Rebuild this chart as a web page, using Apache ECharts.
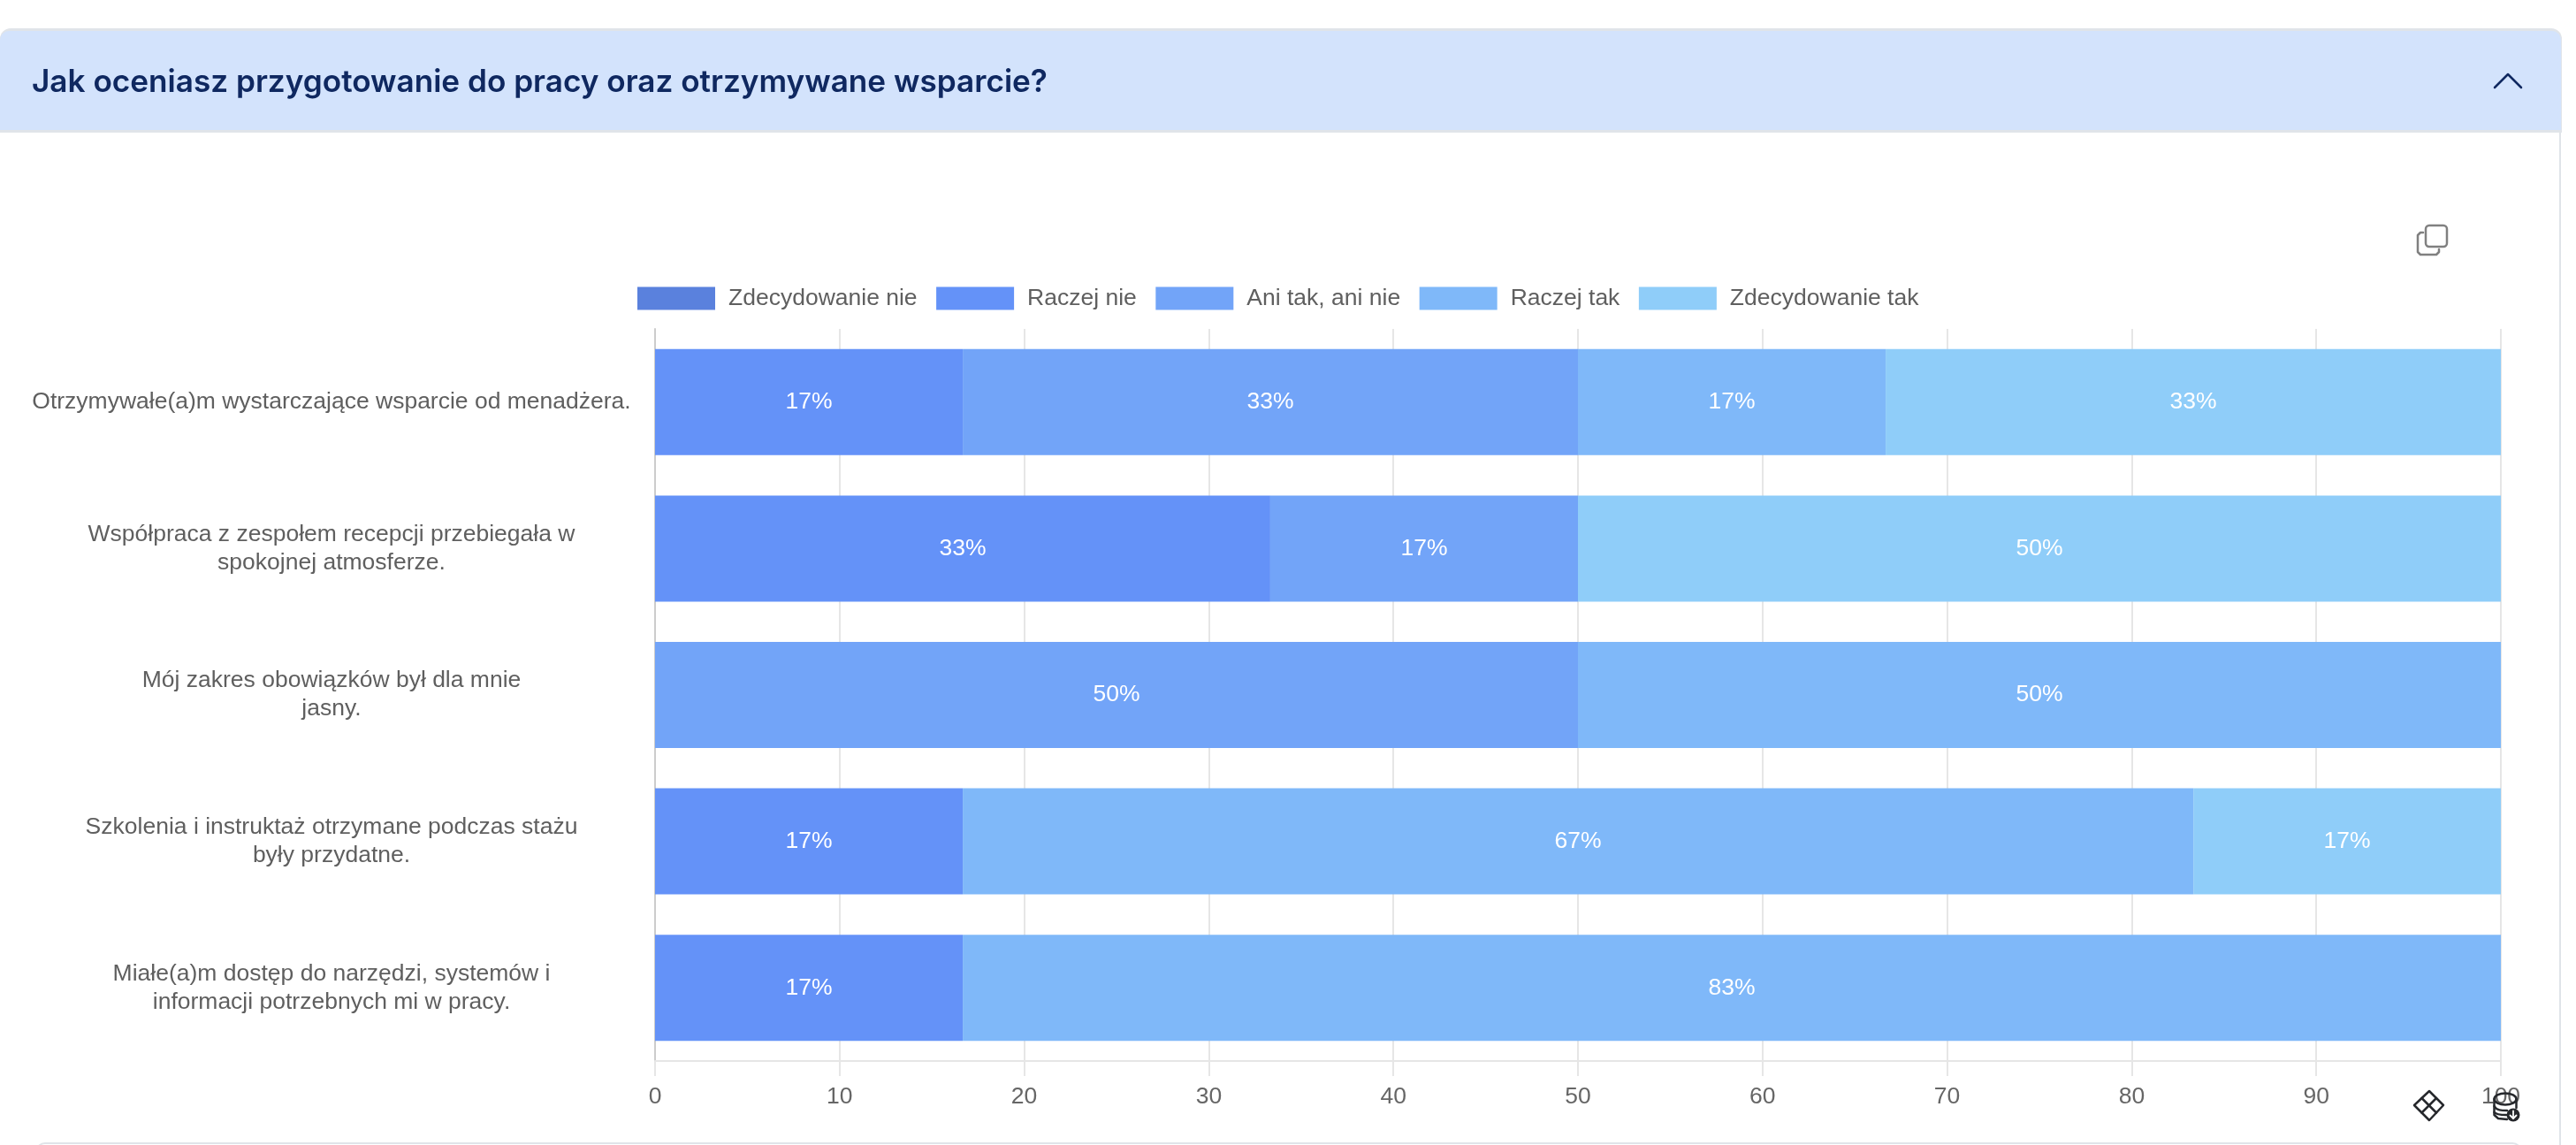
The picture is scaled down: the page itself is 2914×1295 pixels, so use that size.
<!DOCTYPE html>
<html lang="pl">
<head>
<meta charset="utf-8">
<title>Jak oceniasz przygotowanie do pracy oraz otrzymywane wsparcie?</title>
<style>
html,body{margin:0;padding:0;background:#fff;}
#chart{width:2914px;height:1295px;}
</style>
<script src="https://cdn.jsdelivr.net/npm/echarts@6/dist/echarts.min.js"></script>
</head>
<body>
<div id="chart"></div>
<script>
// Survey questions, top to bottom
const questions = [
  'Otrzymywałe(a)m wystarczające wsparcie od menadżera.',
  'Współpraca z zespołem recepcji przebiegała w\nspokojnej atmosferze.',
  'Mój zakres obowiązków był dla mnie\njasny.',
  'Szkolenia i instruktaż otrzymane podczas stażu\nbyły przydatne.',
  'Miałe(a)m dostęp do narzędzi, systemów i\ninformacji potrzebnych mi w pracy.'
];

// Share of answers per question, in percent
const zdecydowanieNie = [null, null, null, null, null];
const raczejNie = [16.67, 33.33, null, 16.67, 16.67];
const aniTakAniNie = [33.33, 16.67, 50, null, null];
const raczejTak = [16.67, null, 50, 66.67, 83.33];
const zdecydowanieTak = [33.33, 50, null, 16.67, null];

const answerNames = ['Zdecydowanie nie', 'Raczej nie', 'Ani tak, ani nie', 'Raczej tak', 'Zdecydowanie tak'];
const answerValues = [zdecydowanieNie, raczejNie, aniTakAniNie, raczejTak, zdecydowanieTak];
const answerColors = ['#5a81dd', '#6492f8', '#72a4f8', '#7fb8f9', '#8fcdf9'];

const heading = 'Jak oceniasz przygotowanie do pracy oraz otrzymywane wsparcie?';
const textFont = '"Liberation Sans", Arial, sans-serif';
const gridColor = '#e6e6e6';
const panelBorder = '#e0e4e9';
const iconDark = '#26282c';
const iconGrey = '#808080';

// Small helpers for the outlined interface icons
const stroked = (type, shape, stroke, lineWidth, z = 20) => ({
  type, z, silent: true, shape, style: { fill: 'none', stroke, lineWidth, lineJoin: 'round', lineCap: 'round' }
});
const solid = (type, shape, fill, z = -9) => ({ type, z, silent: true, shape, style: { fill } });

const chart = echarts.init(document.getElementById('chart'), null, { renderer: 'canvas' });

chart.setOption({
  animation: false,
  backgroundColor: '#ffffff',
  color: answerColors,
  title: {
    text: heading,
    left: 36,
    top: 70,
    padding: 0,
    textStyle: {
      fontFamily: 'Inter, sans-serif',
      fontSize: 35.15,
      fontWeight: 600,
      color: '#0f2860',
      lineHeight: 46
    }
  },
  legend: {
    left: 721,
    top: 324,
    padding: 0,
    icon: 'rect',
    itemWidth: 88,
    itemHeight: 26,
    itemGap: 21.5,
    textStyle: {
      fontFamily: textFont,
      fontSize: 26.5,
      color: '#5f5f5f',
      padding: [0, 0, 0, 10]
    },
    data: answerNames
  },
  grid: { left: 741, right: 85, top: 372, height: 828, outerBoundsMode: 'none' },
  xAxis: {
    type: 'value',
    min: 0,
    max: 100,
    interval: 10,
    axisLine: { show: true, lineStyle: { color: gridColor, width: 2 } },
    axisTick: { show: true, length: 17, lineStyle: { color: gridColor, width: 2 } },
    axisLabel: {
      margin: 27,
      fontFamily: textFont,
      fontSize: 26.5,
      color: '#666666',
      hideOverlap: false,
      showMaxLabel: true,
      showMinLabel: true
    },
    splitLine: { show: true, lineStyle: { color: gridColor, width: 2 } }
  },
  yAxis: {
    type: 'category',
    inverse: true,
    data: questions,
    axisLine: { show: true, lineStyle: { color: '#cccccc', width: 2 } },
    axisTick: { show: false },
    axisLabel: {
      margin: 366,
      align: 'center',
      fontFamily: textFont,
      fontSize: 26.5,
      lineHeight: 32,
      color: '#5f5f5f'
    }
  },
  series: answerNames.map((name, i) => ({
    name,
    type: 'bar',
    stack: 'answers',
    barWidth: 120,
    data: answerValues[i],
    itemStyle: { color: answerColors[i] },
    label: {
      show: true,
      position: 'inside',
      fontFamily: textFont,
      fontSize: 26.5,
      color: '#ffffff',
      formatter: p => Math.round(p.value) + '%'
    }
  })),
  graphic: [
    // Collapsible panel: header band, right edge and the next panel's top edge
    solid('rect', { x: 0, y: 32, width: 2898, height: 118, r: [12, 12, 0, 0] }, panelBorder, -10),
    solid('rect', { x: 0, y: 35, width: 2897, height: 112, r: [10, 10, 0, 0] }, '#d3e3fc'),
    solid('rect', { x: 2895, y: 148, width: 2, height: 1147 }, panelBorder),
    { type: 'rect', z: -9, silent: true, shape: { x: 41, y: 1293, width: 2811, height: 20, r: 10 }, style: { fill: '#ffffff', stroke: panelBorder, lineWidth: 2 } },
    // Collapse chevron
    stroked('polyline', { points: [[2822, 99], [2837, 84], [2852, 99]] }, '#0f2860', 2.5),
    // Copy icon: front sheet, then the visible edge of the sheet behind it
    stroked('rect', { x: 2744, y: 255, width: 24, height: 24, r: 4 }, iconGrey, 2.5),
    stroked('polyline', { points: [[2741, 263], [2738, 263], [2735, 266], [2735, 285], [2738, 288], [2756, 288], [2759, 285], [2759, 282]] }, iconGrey, 2.5),
    // Grid-view icon
    stroked('polygon', { points: [[2748, 1234], [2764, 1250], [2748, 1267], [2731, 1250]] }, iconDark, 2.5),
    stroked('line', { x1: 2739.5, y1: 1242, x2: 2756, y2: 1258.5 }, iconDark, 2.5),
    stroked('line', { x1: 2756, y1: 1242, x2: 2739.5, y2: 1258.5 }, iconDark, 2.5),
    // Data-download icon
    stroked('ellipse', { cx: 2834, cy: 1243, rx: 12.5, ry: 6.5 }, iconDark, 2.5),
    stroked('polyline', { points: [[2821.5, 1243], [2821.5, 1261], [2826, 1265], [2836, 1266]] }, iconDark, 2.5),
    stroked('line', { x1: 2846.5, y1: 1243, x2: 2846.5, y2: 1253 }, iconDark, 2.5),
    stroked('bezierCurve', { x1: 2821.5, y1: 1251, cpx1: 2824, cpy1: 1256, cpx2: 2830, cpy2: 1256, x2: 2836, y2: 1256 }, iconDark, 2.5),
    stroked('bezierCurve', { x1: 2821.5, y1: 1258, cpx1: 2824, cpy1: 1261, cpx2: 2830, cpy2: 1261, x2: 2835, y2: 1261 }, iconDark, 2.5),
    solid('circle', { cx: 2843, cy: 1261, r: 7.5 }, iconDark, 20),
    stroked('polyline', { points: [[2843, 1256.5], [2843, 1265]] }, '#ffffff', 1.8, 21),
    stroked('polyline', { points: [[2839.5, 1261.5], [2843, 1265], [2846.5, 1261.5]] }, '#ffffff', 1.8, 21)
  ]
});
</script>
</body>
</html>
